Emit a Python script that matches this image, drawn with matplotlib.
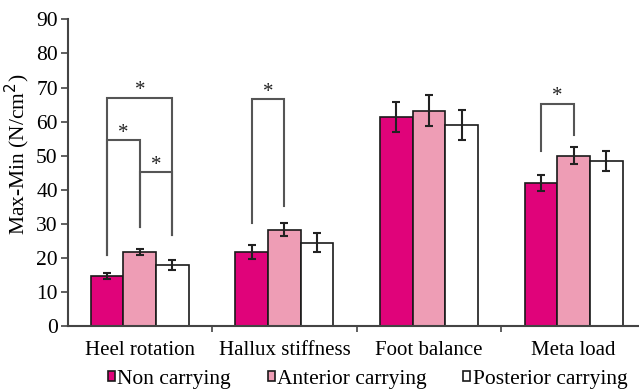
import numpy as np
import matplotlib.pyplot as plt

plt.rcParams["font.family"] = ["Liberation Serif", "DejaVu Serif"]

categories = ["Heel rotation", "Hallux stiffness", "Foot balance", "Meta load"]
series = ["Non carrying", "Anterior carrying", "Posterior carrying"]
non_carrying = [14.7, 21.7, 61.4, 42.0]
non_err = [0.9, 2.1, 4.4, 2.4]
anterior = [21.6, 28.3, 63.2, 50.0]
anterior_err = [0.9, 1.9, 4.5, 2.4]
posterior = [17.9, 24.5, 59.1, 48.5]
posterior_err = [1.6, 2.9, 4.4, 3.0]

# significance brackets: (category, bar a, bar b, top, leg a bottom, leg b bottom)
brackets = [
    (0, 0, 2, 67.0, 20.8, 26.8),
    (0, 0, 1, 54.6, 20.8, 29.0),
    (0, 1, 2, 45.2, 29.0, 26.8),
    (1, 0, 1, 66.5, 30.1, 35.3),
    (3, 0, 1, 65.3, 51.3, 56.0),
]

colors = ["#e0037a", "#ee9db5", "#ffffff"]
values = [non_carrying, anterior, posterior]
errors = [non_err, anterior_err, posterior_err]

fig = plt.figure(figsize=(6.39, 3.89), dpi=100)
ax = fig.add_axes([67.5 / 639, (389 - 326) / 389, (646 - 67.5) / 639, (326 - 19.4) / 389])

x = np.arange(len(categories))
w = 0.226
for i in range(3):
    pos = x + (i - 1) * w
    ax.bar(pos, values[i], w, color=colors[i], edgecolor="#1a1a1a", linewidth=1.2,
           label=series[i], zorder=2)
    ax.errorbar(pos, values[i], yerr=errors[i], fmt="none", ecolor="#222222",
                elinewidth=1.5, capsize=3, capthick=1.5, zorder=3)

for cat, a, b, top, ya, yb in brackets:
    xa = cat + (a - 1) * w
    xb = cat + (b - 1) * w
    ax.plot([xa, xa, xb, xb], [ya, top, top, yb], color="#555555", lw=1.5,
            solid_joinstyle="miter", zorder=1)
    ax.text((xa + xb) / 2, top - 0.8, "*", ha="center", va="bottom", fontsize=15,
            color="#222222")

ax.set_xlim(-0.5, 3.5)
ax.set_ylim(0, 90)
ax.set_yticks(np.arange(0, 91, 10))
ax.set_xticks(x)
ax.set_xticklabels(categories, fontsize=15)
ax.set_xticks([0.5, 1.5, 2.5], minor=True)
ax.tick_params(axis="x", which="major", length=0, pad=11)
ax.tick_params(axis="x", which="minor", length=4, width=1.2, color="#444444", direction="out")
ax.tick_params(axis="y", labelsize=15.5, length=5, width=1.2, color="#444444", pad=2)
ax.set_ylabel("Max-Min (N/cm$^2$)", fontsize=15.5)
ax.yaxis.set_label_coords(-0.062, 0.56)
for s in ["top", "right"]:
    ax.spines[s].set_visible(False)
for s in ["left", "bottom"]:
    ax.spines[s].set_color("#444444")
    ax.spines[s].set_linewidth(1.5)

fig.legend(*ax.get_legend_handles_labels(), loc="lower left",
           bbox_to_anchor=(108 / 639, 0.0), bbox_transform=fig.transFigure,
           ncol=3, frameon=False, fontsize=15.5, handlelength=0.32, handleheight=0.32,
           handletextpad=0.12, columnspacing=1.7, borderaxespad=0, borderpad=0)

fig.savefig("out.png", dpi=100)
